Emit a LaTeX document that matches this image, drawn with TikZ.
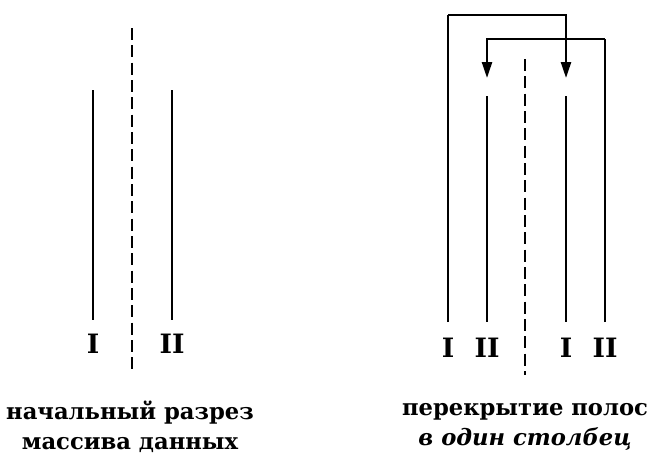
\documentclass[tikz,border=0pt]{standalone}
\usepackage{fontspec}
\setmainfont{DejaVu Serif}
\usetikzlibrary{arrows.meta}
\begin{document}
\begin{tikzpicture}[x=0.75pt,y=-0.75pt,
  strip/.style={line width=1.8pt},
  cut/.style={line width=1.8pt,dash pattern=on 9pt off 4pt},
  frame/.style={line width=1.8pt,-{Triangle[length=12pt,width=7.5pt]}},
  num/.style={font=\bfseries\fontsize{20}{20}\selectfont,inner sep=0pt},
  caption/.style={font=\bfseries\fontsize{17}{22.5}\selectfont,align=center,inner sep=0pt}]
\useasboundingbox (0,0) rectangle (648,454);

% initial cut of the data array
\coordinate (aT) at (93,90);   \coordinate (aB) at (93,320);
\coordinate (bT) at (172,90);  \coordinate (bB) at (172,320);
\coordinate (cT) at (132,28);  \coordinate (cB) at (132,370);
\draw[strip] (aT) -- (aB);
\draw[strip] (bT) -- (bB);
\draw[cut] (cT) -- (cB);
\node[num] (la) at (93,344) {I};
\node[num] (lb) at (172,344) {II};
\node[caption] (capL) at (130,427) {начальный разрез\\массива данных};

% overlap of the strips into one column
\coordinate (pT) at (448,15);  \coordinate (pB) at (448,322);
\coordinate (qT) at (605,39);  \coordinate (qB) at (605,322);
\coordinate (rT) at (487,96);  \coordinate (rB) at (487,322);
\coordinate (sT) at (566,96);  \coordinate (sB) at (566,322);
\coordinate (dT) at (525,59);  \coordinate (dB) at (525,375);
\coordinate (sA) at (566,78);  \coordinate (rA) at (487,78);
\draw[strip] (pB) -- (pT);
\draw[strip] (qB) -- (qT);
\draw[strip] (rT) -- (rB);
\draw[strip] (sT) -- (sB);
\draw[cut] (dT) -- (dB);
\draw[frame] (pT) -| (sA);
\draw[frame] (qT) -| (rA);
\node[num] (l1) at (448,348) {I};
\node[num] (l2) at (487,348) {II};
\node[num] (l3) at (566,348) {I};
\node[num] (l4) at (605,348) {II};
\node[caption] (capR) at (525,427) {перекрытие полос\\\textit{в один столбец}};
\end{tikzpicture}
\end{document}
